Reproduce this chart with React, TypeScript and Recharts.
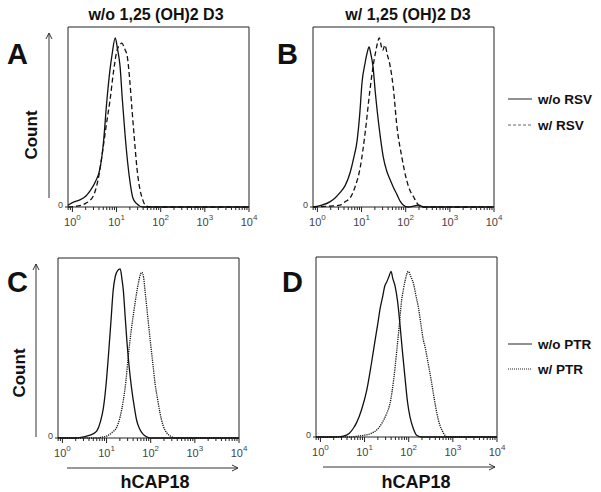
import { LineChart, Line, XAxis, YAxis, ReferenceArea } from "recharts";

const FONT = '"Liberation Sans", Arial, sans-serif';

// log10 fluorescence axis, ticks 10^0 .. 10^4
const X_DOMAIN: [number, number] = [-0.1, 4];
const MAJOR_EXP = [0, 1, 2, 3, 4];
const MINOR_MULT = [2, 3, 4, 5, 6, 7, 8, 9];
const X_TICKS = [
  Math.log10(0.8),
  Math.log10(0.9),
  ...MAJOR_EXP.flatMap((e) =>
    e < 4 ? [e, ...MINOR_MULT.map((m) => e + Math.log10(m))] : [e]
  ),
];

type Pt = { x: number; y: number };

// Panel A: w/o 1,25 (OH)2 D3
const aNoRsv: Pt[] = [
  { x: -0.1, y: 1 }, { x: 0.05, y: 3 }, { x: 0.17, y: 4 }, { x: 0.3, y: 6 },
  { x: 0.4, y: 9 }, { x: 0.52, y: 14 }, { x: 0.63, y: 22 }, { x: 0.7, y: 35 },
  { x: 0.78, y: 59 }, { x: 0.85, y: 76 }, { x: 0.9, y: 85 }, { x: 0.97, y: 94 },
  { x: 1.02, y: 88 }, { x: 1.08, y: 78 }, { x: 1.13, y: 60 }, { x: 1.19, y: 41 },
  { x: 1.25, y: 25 }, { x: 1.31, y: 13 }, { x: 1.37, y: 5 }, { x: 1.45, y: 2 },
  { x: 1.6, y: 0 }, { x: 4, y: 0 },
];
const aRsv: Pt[] = [
  { x: -0.1, y: 0 }, { x: 0.1, y: 0.5 }, { x: 0.3, y: 2 }, { x: 0.47, y: 6 },
  { x: 0.58, y: 15 }, { x: 0.69, y: 32 }, { x: 0.77, y: 46 }, { x: 0.85, y: 59 },
  { x: 0.93, y: 75 }, { x: 1.01, y: 87 }, { x: 1.07, y: 90 }, { x: 1.12, y: 91 },
  { x: 1.18, y: 88 }, { x: 1.24, y: 84 }, { x: 1.3, y: 70 }, { x: 1.35, y: 54 },
  { x: 1.41, y: 36 }, { x: 1.46, y: 22 }, { x: 1.52, y: 11 }, { x: 1.58, y: 5 },
  { x: 1.65, y: 1 }, { x: 1.75, y: 0 }, { x: 4, y: 0 },
];

// Panel B: w/ 1,25 (OH)2 D3
const bNoRsv: Pt[] = [
  { x: -0.1, y: 0 }, { x: 0.1, y: 1 }, { x: 0.29, y: 3 }, { x: 0.4, y: 5 },
  { x: 0.51, y: 8 }, { x: 0.63, y: 12 }, { x: 0.74, y: 19 }, { x: 0.82, y: 27 },
  { x: 0.9, y: 37 }, { x: 0.96, y: 52 }, { x: 1.01, y: 69 }, { x: 1.08, y: 80 },
  { x: 1.13, y: 86 }, { x: 1.17, y: 89 }, { x: 1.21, y: 85 }, { x: 1.26, y: 78 },
  { x: 1.31, y: 64 }, { x: 1.37, y: 50 }, { x: 1.43, y: 38 }, { x: 1.49, y: 28 },
  { x: 1.57, y: 20 }, { x: 1.65, y: 15 }, { x: 1.72, y: 11 }, { x: 1.8, y: 7 },
  { x: 1.88, y: 3 }, { x: 1.95, y: 1 }, { x: 2.05, y: 0 }, { x: 2.3, y: 1 },
  { x: 2.4, y: 0 }, { x: 4, y: 0 },
];
const bRsv: Pt[] = [
  { x: -0.1, y: 0 }, { x: 0.3, y: 0.5 }, { x: 0.51, y: 1 }, { x: 0.63, y: 3 },
  { x: 0.74, y: 5 }, { x: 0.85, y: 11 }, { x: 0.97, y: 22 }, { x: 1.08, y: 41 },
  { x: 1.19, y: 65 }, { x: 1.26, y: 78 }, { x: 1.31, y: 85 }, { x: 1.36, y: 91 },
  { x: 1.4, y: 94 }, { x: 1.45, y: 89 }, { x: 1.48, y: 87 }, { x: 1.53, y: 90 },
  { x: 1.58, y: 85 }, { x: 1.65, y: 78 }, { x: 1.72, y: 66 }, { x: 1.8, y: 45 },
  { x: 1.91, y: 28 }, { x: 2.02, y: 15 }, { x: 2.1, y: 9 }, { x: 2.17, y: 6 },
  { x: 2.26, y: 2 }, { x: 2.35, y: 0 }, { x: 4, y: 0 },
];

// Panel C
const cNoPtr: Pt[] = [
  { x: -0.1, y: 0 }, { x: 0.3, y: 0 }, { x: 0.45, y: 0.5 }, { x: 0.55, y: 1 },
  { x: 0.67, y: 2 }, { x: 0.78, y: 4 }, { x: 0.86, y: 9 }, { x: 0.93, y: 17 },
  { x: 0.99, y: 30 }, { x: 1.04, y: 45 }, { x: 1.1, y: 65 }, { x: 1.15, y: 82 },
  { x: 1.2, y: 90 }, { x: 1.25, y: 93 }, { x: 1.31, y: 94 }, { x: 1.35, y: 88 },
  { x: 1.38, y: 82 }, { x: 1.42, y: 68 }, { x: 1.46, y: 54 }, { x: 1.51, y: 40 },
  { x: 1.57, y: 27 }, { x: 1.63, y: 17 }, { x: 1.68, y: 10 }, { x: 1.75, y: 5 },
  { x: 1.83, y: 2 }, { x: 1.92, y: 0.5 }, { x: 2.0, y: 0 }, { x: 4, y: 0 },
];
const cPtr: Pt[] = [
  { x: -0.1, y: 0 }, { x: 0.8, y: 0 }, { x: 0.9, y: 0.5 }, { x: 1.0, y: 1 },
  { x: 1.12, y: 3 }, { x: 1.23, y: 6 }, { x: 1.31, y: 12 }, { x: 1.38, y: 21 },
  { x: 1.44, y: 32 }, { x: 1.49, y: 45 }, { x: 1.55, y: 58 }, { x: 1.61, y: 69 },
  { x: 1.67, y: 79 }, { x: 1.72, y: 86 }, { x: 1.77, y: 91 }, { x: 1.8, y: 92 },
  { x: 1.84, y: 89 }, { x: 1.87, y: 82 }, { x: 1.93, y: 68 }, { x: 1.99, y: 54 },
  { x: 2.05, y: 41 }, { x: 2.1, y: 30 }, { x: 2.16, y: 21 }, { x: 2.21, y: 14 },
  { x: 2.28, y: 7 }, { x: 2.36, y: 3 }, { x: 2.45, y: 1 }, { x: 2.55, y: 0 },
  { x: 4, y: 0 },
];

// Panel D
const dNoPtr: Pt[] = [
  { x: -0.1, y: 0 }, { x: 0.3, y: 0 }, { x: 0.52, y: 0.5 }, { x: 0.65, y: 2 },
  { x: 0.75, y: 5 }, { x: 0.82, y: 8 }, { x: 0.93, y: 15 }, { x: 1.05, y: 26 },
  { x: 1.15, y: 40 }, { x: 1.24, y: 54 }, { x: 1.3, y: 63 }, { x: 1.35, y: 71 },
  { x: 1.41, y: 78 }, { x: 1.46, y: 84 }, { x: 1.5, y: 86 }, { x: 1.55, y: 89 },
  { x: 1.6, y: 92 }, { x: 1.64, y: 88 }, { x: 1.69, y: 84 }, { x: 1.75, y: 75 },
  { x: 1.8, y: 63 }, { x: 1.86, y: 47 }, { x: 1.92, y: 32 }, { x: 1.97, y: 20 },
  { x: 2.03, y: 11 }, { x: 2.1, y: 5 }, { x: 2.18, y: 1 }, { x: 2.3, y: 0 },
  { x: 4, y: 0 },
];
const dPtr: Pt[] = [
  { x: -0.1, y: 0 }, { x: 0.7, y: 0 }, { x: 0.85, y: 0.5 }, { x: 1.0, y: 1 },
  { x: 1.15, y: 2 }, { x: 1.28, y: 4 }, { x: 1.4, y: 8 }, { x: 1.5, y: 13 },
  { x: 1.58, y: 19 }, { x: 1.66, y: 32 }, { x: 1.73, y: 48 }, { x: 1.79, y: 63 },
  { x: 1.84, y: 76 }, { x: 1.88, y: 82 }, { x: 1.92, y: 87 }, { x: 1.99, y: 92 },
  { x: 2.05, y: 89 }, { x: 2.11, y: 85 }, { x: 2.16, y: 79 }, { x: 2.22, y: 72 },
  { x: 2.28, y: 62 }, { x: 2.33, y: 54 }, { x: 2.38, y: 49 }, { x: 2.41, y: 45 },
  { x: 2.47, y: 37 }, { x: 2.52, y: 30 }, { x: 2.58, y: 21 }, { x: 2.64, y: 13 },
  { x: 2.7, y: 7 }, { x: 2.75, y: 4 }, { x: 2.82, y: 1 }, { x: 2.9, y: 0 },
  { x: 4, y: 0 },
];

const DASHED = "5 3";
const DOTTED = "1.2 1";

function LogTick(props: any) {
  const { x, y, payload } = props;
  const v = payload.value as number;
  const major = Math.abs(v - Math.round(v)) < 1e-6;
  return (
    <g>
      <line x1={x} y1={y} x2={x} y2={y + (major ? 5 : 3)} stroke="#222" strokeWidth={1} />
      {major && (
        <text x={x} y={y + 19} textAnchor="middle" fontSize={11} fill="#444" fontFamily={FONT}>
          10
          <tspan dy={-6} fontSize={8}>
            {Math.round(v)}
          </tspan>
        </text>
      )}
    </g>
  );
}

function ZeroTick(props: any) {
  const { x, y } = props;
  return (
    <g>
      <line x1={x - 3} y1={y} x2={x} y2={y} stroke="#222" />
      <text x={x - 5} y={y + 1} textAnchor="end" fontSize={9} fill="#444" fontFamily={FONT}>
        0
      </text>
    </g>
  );
}

interface Box {
  x: number;
  y: number;
  w: number;
  h: number;
}

interface Series {
  data: Pt[];
  dash?: string;
}

function Panel({ box, series }: { box: Box; series: Series[] }) {
  return (
    <div style={{ position: "absolute", left: box.x - 30, top: box.y - 5 }}>
      <LineChart
        width={box.w + 40}
        height={box.h + 40}
        margin={{ top: 5, right: 10, left: 0, bottom: 0 }}
      >
        <XAxis
          type="number"
          dataKey="x"
          domain={X_DOMAIN}
          ticks={X_TICKS}
          interval={0}
          allowDataOverflow
          tickSize={0}
          tickMargin={0}
          axisLine={false}
          height={35}
          tick={(p: any) => <LogTick {...p} />}
        />
        <YAxis
          type="number"
          domain={[0, 100]}
          ticks={[0]}
          width={30}
          tickSize={0}
          tickMargin={0}
          axisLine={false}
          tick={(p: any) => <ZeroTick {...p} />}
        />
        <ReferenceArea
          x1={X_DOMAIN[0]}
          x2={X_DOMAIN[1]}
          y1={0}
          y2={100}
          fill="none"
          stroke="#222"
          strokeWidth={1}
        />
        {series.map((s, i) => (
          <Line
            key={i}
            data={s.data}
            dataKey="y"
            type="monotone"
            stroke="#111"
            strokeWidth={1.3}
            strokeDasharray={s.dash}
            dot={false}
            isAnimationActive={false}
          />
        ))}
      </LineChart>
    </div>
  );
}

const txt = { fontFamily: FONT, fontWeight: 700, fill: "#111" } as const;

function Decor() {
  return (
    <svg
      width={601}
      height={492}
      style={{ position: "absolute", left: 0, top: 0, pointerEvents: "none" }}
    >
      {/* column titles */}
      <text x={156} y={20} textAnchor="middle" fontSize={16} {...txt}>
        w/o 1,25 (OH)2 D3
      </text>
      <text x={408} y={20} textAnchor="middle" fontSize={16} {...txt}>
        w/ 1,25 (OH)2 D3
      </text>

      {/* panel letters */}
      <text x={7} y={64} fontSize={29} {...txt}>A</text>
      <text x={277} y={64} fontSize={29} {...txt}>B</text>
      <text x={7} y={292} fontSize={29} {...txt}>C</text>
      <text x={282} y={292} fontSize={29} {...txt}>D</text>

      {/* y labels */}
      <text x={0} y={0} fontSize={17} textAnchor="middle" transform="translate(37,135) rotate(-90)" {...txt}>
        Count
      </text>
      <text x={0} y={0} fontSize={17} textAnchor="middle" transform="translate(25,373) rotate(-90)" {...txt}>
        Count
      </text>

      {/* y arrows */}
      <g stroke="#333" fill="none" strokeWidth={1}>
        <line x1={49} y1={198} x2={49} y2={33} />
        <polyline points="46,39 49,33 52,39" />
        <line x1={36} y1={437} x2={36} y2={264} />
        <polyline points="33,270 36,264 39,270" />
        {/* x arrows */}
        <line x1={67} y1={468} x2={238} y2={468} />
        <polyline points="232,465 238,468 232,471" />
        <line x1={323} y1={467} x2={495} y2={467} />
        <polyline points="489,464 495,467 489,470" />
      </g>

      {/* x labels */}
      <text x={155} y={488} textAnchor="middle" fontSize={18} {...txt}>hCAP18</text>
      <text x={416} y={488} textAnchor="middle" fontSize={18} {...txt}>hCAP18</text>

      {/* legends */}
      <g stroke="#222" strokeWidth={1}>
        <line x1={508} y1={99} x2={532} y2={99} />
        <line x1={508} y1={125} x2={532} y2={125} strokeDasharray="3 2" stroke="#666" />
        <line x1={508} y1={344} x2={532} y2={344} />
        <line x1={508} y1={369} x2={532} y2={369} strokeDasharray="1 1" />
      </g>
      <text x={538} y={104} fontSize={13.5} {...txt}>w/o RSV</text>
      <text x={538} y={130} fontSize={13.5} {...txt}>w/ RSV</text>
      <text x={538} y={349} fontSize={13.5} {...txt}>w/o PTR</text>
      <text x={538} y={374} fontSize={13.5} {...txt}>w/ PTR</text>
    </svg>
  );
}

export default function App() {
  return (
    <div
      style={{
        position: "absolute",
        left: 0,
        top: 0,
        width: 601,
        height: 492,
        background: "#fff",
        fontFamily: FONT,
      }}
    >
      <Panel box={{ x: 68, y: 27, w: 181, h: 180 }} series={[{ data: aNoRsv }, { data: aRsv, dash: DASHED }]} />
      <Panel box={{ x: 313, y: 27, w: 181, h: 180 }} series={[{ data: bNoRsv }, { data: bRsv, dash: DASHED }]} />
      <Panel box={{ x: 58, y: 258, w: 181, h: 180 }} series={[{ data: cNoPtr }, { data: cPtr, dash: DOTTED }]} />
      <Panel box={{ x: 316, y: 257, w: 181, h: 180 }} series={[{ data: dNoPtr }, { data: dPtr, dash: DOTTED }]} />
      <Decor />
    </div>
  );
}
